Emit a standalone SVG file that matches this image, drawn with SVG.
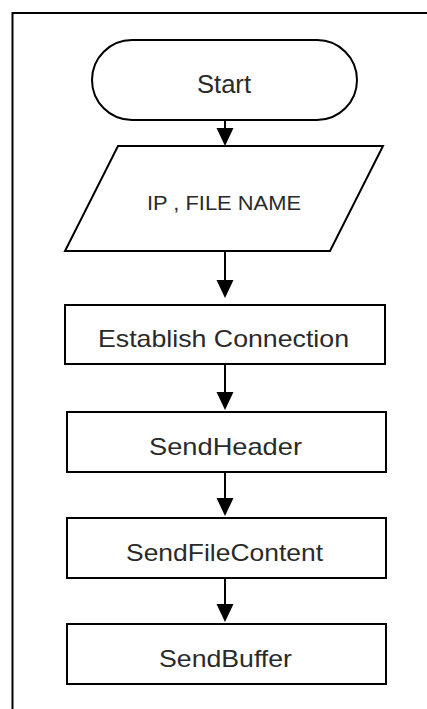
<svg xmlns="http://www.w3.org/2000/svg" width="427" height="709" viewBox="0 0 427 709">
<defs>
<style>
.shape{fill:#ffffff;stroke:#000000;stroke-width:2}
.lbl{fill:#2a2a2a;font-family:"Liberation Sans",Arial,sans-serif;text-anchor:middle}
.edge{stroke:#000000;stroke-width:2;fill:none}
.head{fill:#000000}
</style>
</defs>
<rect width="427" height="709" fill="#ffffff"/>
<g id="frame">
<path d="M12.5,709 V13 H427" class="edge"/>
</g>
<g id="connectors">
<path d="M225,120 V128" class="edge"/>
<polygon points="216.5,128 233.5,128 225,146" class="head"/>
<path d="M225,251 V280" class="edge"/>
<polygon points="216.5,280 233.5,280 225,298" class="head"/>
<path d="M225,364 V392" class="edge"/>
<polygon points="216.5,392 233.5,392 225,410" class="head"/>
<path d="M225,472 V498" class="edge"/>
<polygon points="216.5,498 233.5,498 225,516" class="head"/>
<path d="M225,578 V604" class="edge"/>
<polygon points="216.5,604 233.5,604 225,622" class="head"/>
</g>
<g id="start">
<rect x="92" y="40" width="265" height="80" rx="40" ry="40" class="shape"/>
<text class="lbl" x="224" y="93" font-size="26" textLength="54" lengthAdjust="spacingAndGlyphs">Start</text>
</g>
<g id="input">
<polygon points="118,146 383,146 330,251 65,251" class="shape"/>
<text class="lbl" x="224" y="210" font-size="21" textLength="154" lengthAdjust="spacingAndGlyphs">IP , FILE NAME</text>
</g>
<g id="establish">
<rect x="65" y="305" width="320" height="59" class="shape"/>
<text class="lbl" x="223.5" y="347" font-size="24" textLength="251" lengthAdjust="spacingAndGlyphs">Establish Connection</text>
</g>
<g id="sendheader">
<rect x="67" y="412" width="319" height="60" class="shape"/>
<text class="lbl" x="225.5" y="455" font-size="24" textLength="153" lengthAdjust="spacingAndGlyphs">SendHeader</text>
</g>
<g id="sendfilecontent">
<rect x="67" y="518" width="319" height="60" class="shape"/>
<text class="lbl" x="224.5" y="561" font-size="24" textLength="197" lengthAdjust="spacingAndGlyphs">SendFileContent</text>
</g>
<g id="sendbuffer">
<rect x="67" y="624" width="319" height="60" class="shape"/>
<text class="lbl" x="225.5" y="667" font-size="24" textLength="133" lengthAdjust="spacingAndGlyphs">SendBuffer</text>
</g>
</svg>
